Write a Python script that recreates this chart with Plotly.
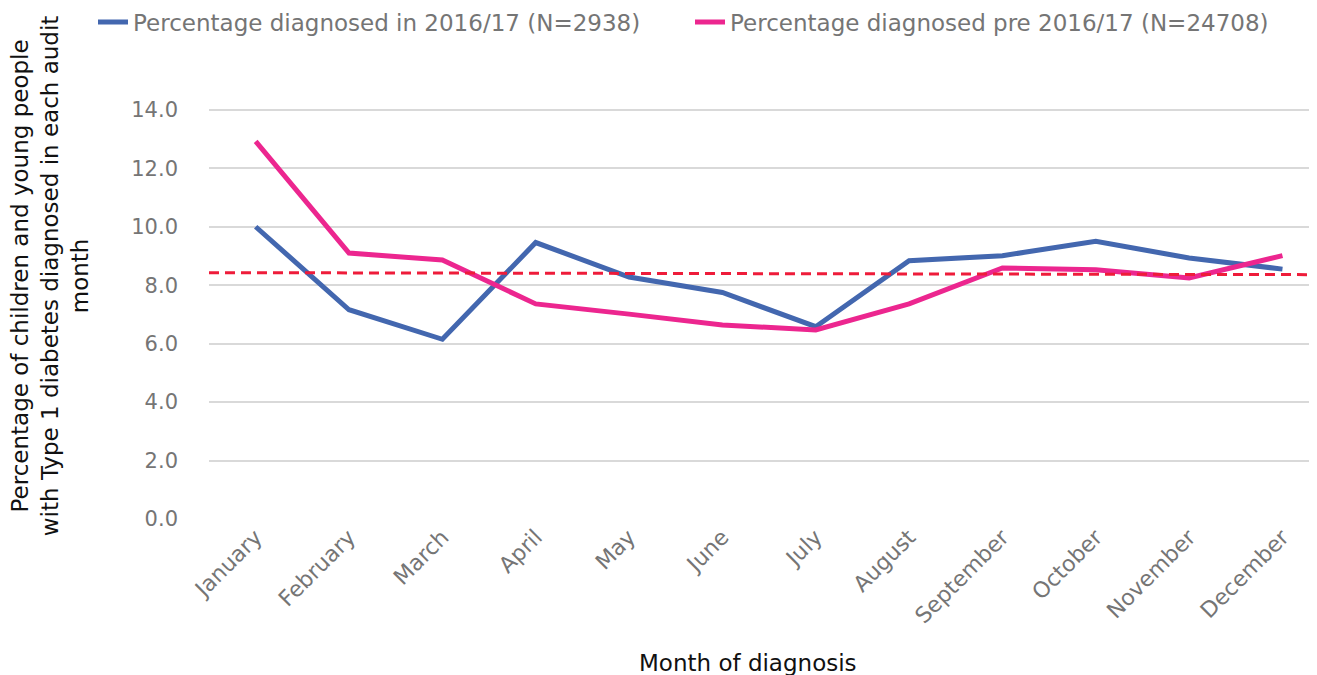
import plotly.graph_objects as go

months = ["January", "February", "March", "April", "May", "June", "July",
          "August", "September", "October", "November", "December"]
pct_2016_17 = [10.0, 7.16, 6.15, 9.46, 8.28, 7.75, 6.58, 8.84, 9.01, 9.50, 8.93, 8.55]
pct_pre_2016_17 = [12.92, 9.10, 8.86, 7.36, 7.01, 6.64, 6.47, 7.36, 8.59, 8.53, 8.25, 9.01]
trend_x = [-0.5, 11.5]
trend_y = [8.43, 8.36]
y_ticks = [0, 2, 4, 6, 8, 10, 12, 14]

FONT = "DejaVu Sans"
GREY = "#757575"
W, H = 1309, 667

x_idx = list(range(len(months)))

fig = go.Figure()
fig.add_trace(go.Scatter(
    x=x_idx, y=pct_2016_17, mode="lines", legend="legend",
    name="Percentage diagnosed in 2016/17 (N=2938)",
    line=dict(color="#4367AF", width=5)))
fig.add_trace(go.Scatter(
    x=x_idx, y=pct_pre_2016_17, mode="lines", legend="legend2",
    name="Percentage diagnosed pre 2016/17 (N=24708)",
    line=dict(color="#EC268F", width=5)))
fig.add_trace(go.Scatter(
    x=trend_x, y=trend_y, mode="lines", showlegend=False,
    line=dict(color="#EE1C3A", width=3, dash="10px,6px")))

leg_common = dict(orientation="h", xref="container", xanchor="left",
                  y=1 - 14 / H, yref="container", yanchor="middle",
                  font=dict(size=23, color=GREY, family=FONT), itemwidth=30,
                  bgcolor="rgba(0,0,0,0)")

fig.update_layout(
    width=W, height=H,
    paper_bgcolor="white", plot_bgcolor="white",
    margin=dict(l=201, r=0, t=96, b=156),
    font=dict(family=FONT, color=GREY, size=20),
    legend=dict(x=85 / W, **leg_common),
    legend2=dict(x=682 / W, **leg_common),
    xaxis=dict(range=[-0.5, 11.37], tickvals=x_idx, ticktext=months, tickangle=-45,
               showgrid=False, zeroline=False, showline=False, ticks="",
               tickfont=dict(size=22, color=GREY), automargin=False),
    yaxis=dict(range=[0, 14.2], tickvals=y_ticks, ticktext=[f"{v:.1f}" for v in y_ticks],
               showgrid=True, gridcolor="#D9D9D9", gridwidth=2, zeroline=False,
               showline=False, ticks="", ticklabelstandoff=30, automargin=False,
               tickfont=dict(size=21, color=GREY)),
    annotations=[
        dict(text="Percentage of children and young people<br>with Type 1 diabetes diagnosed in each audit<br>month",
             textangle=-90, xref="paper", yref="paper", x=-0.1435, y=0.585,
             xanchor="center", yanchor="middle", showarrow=False,
             font=dict(size=23, color="#111111", family=FONT)),
        dict(text="Month of diagnosis", xref="paper", yref="paper", x=0.4865, y=-0.347,
             xanchor="center", yanchor="middle", showarrow=False,
             font=dict(size=23, color="#111111", family=FONT)),
    ],
)

fig.write_html("out.html")
